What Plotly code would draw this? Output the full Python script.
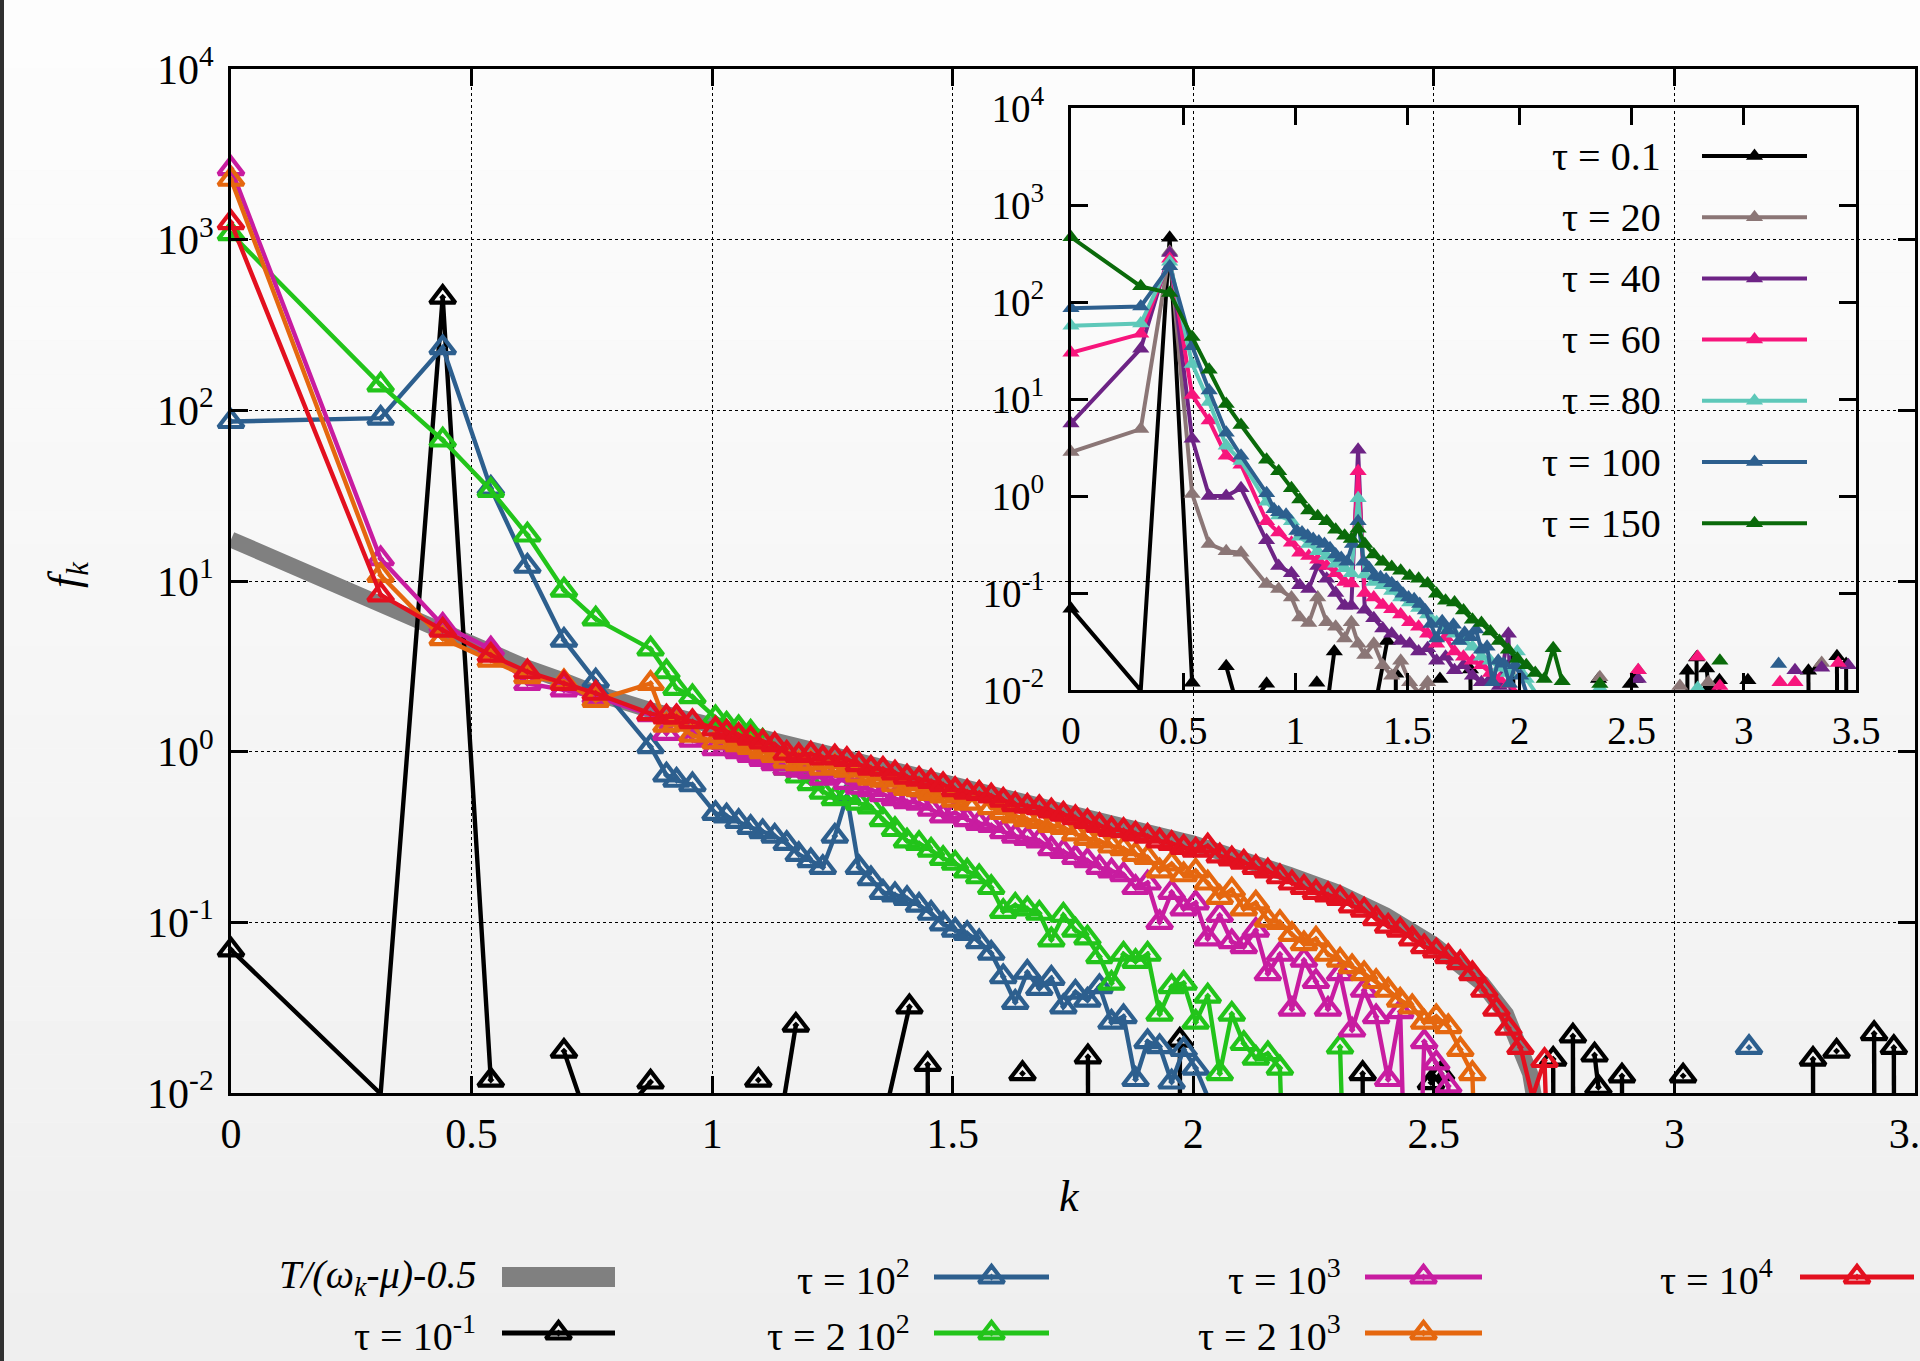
import plotly.graph_objects as go

N = None

# ---------------- data ----------------
# wave-number grid of the main panel
K_MAIN = [0.000, 0.311, 0.440, 0.540, 0.616, 0.692, 0.758, 0.872, 0.905, 0.926, 0.959, 1.007,
          1.030, 1.055, 1.080, 1.105, 1.130, 1.155, 1.180, 1.205, 1.230, 1.255,
          1.280, 1.305, 1.330, 1.355, 1.380, 1.405, 1.430, 1.455, 1.480, 1.505,
          1.530, 1.555, 1.580, 1.605, 1.630, 1.655, 1.680, 1.705, 1.730, 1.755,
          1.780, 1.805, 1.830, 1.855, 1.880, 1.905, 1.930, 1.955, 1.980, 2.005,
          2.030, 2.055, 2.080, 2.105, 2.130, 2.155, 2.180, 2.205, 2.230, 2.255,
          2.280, 2.305, 2.330, 2.355, 2.380, 2.405, 2.430, 2.455, 2.480, 2.505,
          2.530, 2.555, 2.580, 2.605, 2.630, 2.655, 2.680, 2.705, 2.730, 2.755]

TAU_1E2 = [86, 90, 233, 35, 12.2, 4.5, 2.6, 1.07, 0.73, 0.68, 0.64, 0.435,
           0.42, 0.39, 0.36, 0.34, 0.32, 0.29, 0.25, 0.23, 0.21, 0.32,
           0.55, 0.21, 0.18, 0.15, 0.145, 0.138, 0.126, 0.113, 0.098, 0.09,
           0.086, 0.077, 0.066, 0.048, 0.034, 0.051, 0.041, 0.047, 0.032, 0.039,
           0.035, 0.042, 0.026, 0.028, 0.012, 0.02, 0.0187, 0.0116, 0.018, 0.014,
           0.0095, N, N, N, N, N, N, N, N, N,
           N, N, N, N, N, N, N, N, N, N,
           N, N, N, N, N, N, N, N, N, N]
TAU_1E2_TAIL_K = [3.155]
TAU_1E2_TAIL_V = [0.0185]

TAU_2E2 = [1085, 141, 67, 34, 18.6, 8.85, 6.0, 4.0, 2.94, 2.35, 2.1, 1.58,
           1.45, 1.38, 1.3, 1.15, 0.95, 0.8, 0.72, 0.65, 0.58, 0.53,
           0.54, 0.5, 0.475, 0.4, 0.35, 0.3, 0.29, 0.265, 0.237, 0.222,
           0.2, 0.185, 0.16, 0.116, 0.126, 0.12, 0.113, 0.079, 0.11, 0.09,
           0.081, 0.063, 0.044, 0.065, 0.059, 0.065, 0.029, 0.042, 0.044, 0.026,
           0.037, 0.013, 0.029, 0.0195, 0.016, 0.017, 0.014, 0.0001, N, N,
           N, 0.0186, 0.0001, N, N, N, N, N, N, N,
           N, N, N, N, N, N, N, N, N, N]

TAU_1E3 = [2610, 13.5, 5.5, 4.0, 2.51, 2.3, 2.1, 1.65, 1.28, 1.6, 1.17, 1.04,
           1.05, 1.0, 0.95, 0.9, 0.85, 0.8, 0.78, 0.76, 0.7, 0.73,
           0.66, 0.62, 0.6, 0.56, 0.53, 0.51, 0.5, 0.46, 0.42, 0.44,
           0.4, 0.38, 0.37, 0.34, 0.32, 0.31, 0.3, 0.27, 0.26, 0.24,
           0.23, 0.21, 0.2, 0.19, 0.16, 0.17, 0.1, 0.15, 0.12, 0.13,
           0.08, 0.11, 0.077, 0.072, 0.09, 0.05, 0.065, 0.031, 0.06, 0.045,
           0.031, 0.05, 0.0234, 0.04, 0.028, 0.012, 0.03, 0.0001, 0.02, 0.015,
           0.011, 0.0001, N, N, N, N, N, N, N, N]

TAU_2E3 = [2260, 10.8, 4.6, 3.44, 2.75, 2.57, 2.0, 2.51, 1.43, 1.45, 1.25, 1.14,
           1.15, 1.1, 1.06, 1.0, 0.95, 0.88, 0.85, 0.86, 0.8, 0.82,
           0.78, 0.73, 0.7, 0.68, 0.64, 0.61, 0.6, 0.57, 0.55, 0.52,
           0.5, 0.57, 0.47, 0.44, 0.42, 0.4, 0.39, 0.37, 0.36, 0.33,
           0.31, 0.3, 0.28, 0.27, 0.25, 0.24, 0.2, 0.22, 0.19, 0.2,
           0.17, 0.14, 0.155, 0.12, 0.13, 0.103, 0.1, 0.085, 0.075, 0.08,
           0.065, 0.06, 0.055, 0.05, 0.045, 0.04, 0.035, 0.032, 0.026, 0.028,
           0.0245, 0.018, 0.013, 0.0001, N, N, N, N, N, N]

TAU_1E4 = [1260, 8.3, 5.15, 3.68, 2.94, 2.51, 2.2, 1.67, 1.6, 1.6, 1.5, 1.36,
           1.3, 1.25, 1.2, 1.14, 1.1, 0.98, 0.95, 0.97, 0.92, 0.93,
           0.9, 0.84, 0.8, 0.79, 0.75, 0.71, 0.69, 0.67, 0.64, 0.6,
           0.58, 0.57, 0.55, 0.52, 0.49, 0.48, 0.47, 0.45, 0.43, 0.41,
           0.39, 0.37, 0.35, 0.345, 0.33, 0.32, 0.30, 0.29, 0.275, 0.265,
           0.28, 0.245, 0.235, 0.225, 0.21, 0.2, 0.185, 0.17, 0.16, 0.15,
           0.145, 0.138, 0.125, 0.118, 0.105, 0.095, 0.09, 0.08, 0.072, 0.068,
           0.063, 0.058, 0.05, 0.04, 0.031, 0.024, 0.0185, 0.0095, 0.0155, 0.0001]

# tau = 0.1 (sparse, gaps where the value is zero)
TAU_01_K = [0.000, 0.311, 0.440, 0.540, 0.600, 0.692, 0.758, 0.872, 0.950,
            1.096, 1.120, 1.151, 1.174, 1.250, 1.369, 1.410, 1.430, 1.448, 1.451, 1.500,
            1.645, 1.700, 1.781, 1.783, 1.850, 1.972, 1.974, 2.100, 2.352, 2.354, 2.400,
            2.494, 2.515, 2.550, 2.748, 2.750, 2.770, 2.789, 2.791, 2.810, 2.834, 2.842,
            2.860, 2.891, 2.893, 2.950, 3.018, 3.050, 3.288, 3.290, 3.310, 3.337, 3.370,
            3.415, 3.417, 3.430, 3.456, 3.458]
TAU_01_V = [0.069, 0.0099, 460, 0.0119, N, 0.0176, 0.005, 0.0116, N,
            0.0119, N, 0.0099, 0.025, N, 0.0099, 0.032, N, 0.0147, 0.0001, N,
            0.013, N, 0.0163, 0.0001, N, 0.0204, 0.0001, N, 0.013, 0.0001, N,
            0.0115, 0.013, N, 0.0158, 0.0001, N, 0.0216, 0.0001, N, 0.0167, 0.0108,
            N, 0.0126, 0.0001, N, 0.0126, N, 0.0158, 0.0001, N, 0.0176, N,
            0.0223, 0.0001, N, 0.0185, 0.0001]

# T/(omega_k - mu) - 0.5
THEORY_K = [0, 0.311, 0.440, 0.540, 0.616, 0.692, 0.758, 0.872, 1.007, 1.2, 1.4, 1.6,
            1.8, 2.0, 2.2, 2.3, 2.4, 2.5, 2.6, 2.65, 2.7, 2.72]
THEORY_V = [17.5, 7.4, 4.9, 3.8, 3.1, 2.6, 2.2, 1.75, 1.42, 1.02, 0.76, 0.56,
            0.41, 0.29, 0.19, 0.15, 0.11, 0.074, 0.044, 0.029, 0.013, 0.006]

# inset grid and early-time series
K_IN = [0.000, 0.311, 0.440, 0.540, 0.616, 0.692, 0.758, 0.872, 0.926, 0.983,
        1.02, 1.06, 1.10, 1.14, 1.18, 1.22, 1.25, 1.28, 1.31, 1.35,
        1.39, 1.43, 1.47, 1.51, 1.55, 1.59, 1.63, 1.67, 1.71, 1.75,
        1.79, 1.83, 1.87, 1.91, 1.95, 1.99, 2.03, 2.07, 2.11, 2.15, 2.19]
TAU_20 = [2.84, 4.9, 330, 1.05, 0.32, 0.27, 0.26, 0.124, 0.11, 0.09,
          0.056, 0.049, 0.09, 0.05, 0.045, 0.034, 0.05, 0.03, 0.023, 0.03,
          0.018, 0.014, 0.02, 0.012, 0.0095, 0.012, 0.0001, N, N, N,
          N, N, N, N, N, N, N, N, N, N, N]
TAU_40 = [5.6, 33, 320, 3.9, 1.0, 1.0, 1.2, 0.35, 0.19, 0.16,
          0.12, 0.11, 0.19, 0.14, 0.1, 0.074, 0.074, 3.0, 0.067, 0.055,
          0.043, 0.038, 0.032, 0.03, 0.025, 0.027, 0.02, 0.022, 0.016, 0.018,
          0.014, 0.012, 0.013, 0.011, 0.038, 0.0001, N, N, N, N, N]
TAU_60 = [30, 47, 280, 11, 6.0, 2.6, 2.1, 0.55, 0.42, 0.33,
          0.26, 0.24, 0.22, 0.19, 0.16, 0.13, 0.125, 1.8, 0.1, 0.09,
          0.075, 0.068, 0.06, 0.05, 0.045, 0.038, 0.03, 0.035, 0.025, 0.022,
          0.02, 0.018, 0.015, 0.013, 0.0115, 0.0095, N, N, N, N, N]
TAU_80 = [57, 60, 260, 23, 9.3, 3.3, 2.3, 0.87, 0.63, 0.55,
          0.38, 0.32, 0.27, 0.24, 0.2, 0.18, 0.16, 0.95, 0.155, 0.13,
          0.12, 0.105, 0.09, 0.08, 0.07, 0.06, 0.05, 0.045, 0.038, 0.032,
          0.028, 0.022, 0.02, 0.017, 0.015, 0.025, 0.013, 0.0095, N, N, N]
TAU_150 = [466, 145, 124, 43.6, 20, 8.9, 5.4, 2.37, 1.8, 1.2,
           0.92, 0.71, 0.62, 0.55, 0.45, 0.39, 0.36, 0.46, 0.32, 0.25,
           0.21, 0.185, 0.17, 0.15, 0.14, 0.125, 0.098, 0.083, 0.08, 0.066,
           0.053, 0.049, 0.04, 0.032, 0.026, 0.021, 0.018, 0.015, 0.013, 0.027, 0.0123]
# isolated late points of the inset series (no connecting lines)
TAIL20_K, TAIL20_V = [2.358, 2.529, 2.715, 2.841, 3.347], [0.0135, 0.016, 0.011, 0.012, 0.019]
TAIL40_K, TAIL40_V = [2.529, 3.228, 3.347, 3.466], [0.013, 0.016, 0.017, 0.018]
TAIL60_K, TAIL60_V = [2.529, 2.794, 2.893, 3.161, 3.228, 3.421], [0.016, 0.022, 0.011, 0.012, 0.012, 0.019]
TAIL80_K, TAIL80_V = [2.358, 2.794], [0.0105, 0.0105]
TAIL150_K, TAIL150_V = [2.358, 2.893], [0.0115, 0.02]

XTICKS = [0, 0.5, 1, 1.5, 2, 2.5, 3, 3.5]
XTICK_TEXT = ['0', '0.5', '1', '1.5', '2', '2.5', '3', '3.5']
YTICKS = [1e-2, 1e-1, 1, 10, 100, 1000, 10000]
YTICK_TEXT = ['10<sup>-2</sup>', '10<sup>-1</sup>', '10<sup>0</sup>', '10<sup>1</sup>',
              '10<sup>2</sup>', '10<sup>3</sup>', '10<sup>4</sup>']

# ---------------- styling ----------------
W, H = 1920, 1361
SERIF = 'Liberation Serif, Times New Roman, serif'
C_BLACK = '#000000'
C_BLUE = '#2d5f8e'
C_GREEN = '#22c41a'
C_MAGENTA = '#c81ca0'
C_ORANGE = '#e5670f'
C_RED = '#e3101f'
C_GRAY = '#808080'
C_BROWN = '#8b7676'
C_PURPLE = '#6d2385'
C_PINK = '#f7157c'
C_TURQ = '#5ec8b9'
C_DKGREEN = '#0a6a0a'

MAIN_BOX = (231, 1915, 69, 1093)     # left, right, top, bottom in px
INSET_BOX = (1071, 1856, 108, 690)


def dom_x(box):
    return [box[0] / W, box[1] / W]


def dom_y(box):
    return [1 - box[3] / H, 1 - box[2] / H]


fig = go.Figure()


def add_series(k, v, color, xa, ya, lw, symbol, msize, mlw, lines=True):
    n = min(len(k), len(v))
    k, v = list(k[:n]), list(v[:n])
    if lines:
        fig.add_trace(go.Scatter(x=k, y=v, mode='lines', xaxis=xa, yaxis=ya,
                                 line=dict(color=color, width=lw), connectgaps=False,
                                 hoverinfo='skip', showlegend=False))
    km = [a for a, b in zip(k, v) if b is not None and b >= 0.01]
    vm = [b for b in v if b is not None and b >= 0.01]
    fig.add_trace(go.Scatter(x=km, y=vm, mode='markers', xaxis=xa, yaxis=ya,
                             marker=dict(symbol=symbol, size=msize, color=color,
                                         line=dict(color=color, width=mlw)),
                             cliponaxis=False, hoverinfo='skip', showlegend=False))


# ---- main panel ----
fig.add_trace(go.Scatter(x=THEORY_K, y=THEORY_V, mode='lines', xaxis='x', yaxis='y',
                         line=dict(color=C_GRAY, width=16), hoverinfo='skip', showlegend=False))
MS = 'triangle-up-open-dot'
MSZ, MLW, LW = 22, 4.2, 4.4
add_series(TAU_01_K, TAU_01_V, C_BLACK, 'x', 'y', LW, MS, MSZ, MLW)
add_series(K_MAIN, TAU_1E2, C_BLUE, 'x', 'y', LW, MS, MSZ, MLW)
add_series(TAU_1E2_TAIL_K, TAU_1E2_TAIL_V, C_BLUE, 'x', 'y', LW, MS, MSZ, MLW, lines=False)
add_series(K_MAIN, TAU_2E2, C_GREEN, 'x', 'y', LW, MS, MSZ, MLW)
add_series(K_MAIN, TAU_1E3, C_MAGENTA, 'x', 'y', LW, MS, MSZ, MLW)
add_series(K_MAIN, TAU_2E3, C_ORANGE, 'x', 'y', LW, MS, MSZ, MLW)
add_series(K_MAIN, TAU_1E4, C_RED, 'x', 'y', LW, MS, MSZ, MLW)

# ---- inset ----
FS = 'triangle-up'
inset_series = [
    (TAU_01_K, TAU_01_V, C_BLACK, True),
    (K_IN, TAU_20, C_BROWN, True), (TAIL20_K, TAIL20_V, C_BROWN, False),
    (K_IN, TAU_40, C_PURPLE, True), (TAIL40_K, TAIL40_V, C_PURPLE, False),
    (K_IN, TAU_60, C_PINK, True), (TAIL60_K, TAIL60_V, C_PINK, False),
    (K_IN, TAU_80, C_TURQ, True), (TAIL80_K, TAIL80_V, C_TURQ, False),
    (K_MAIN, TAU_1E2, C_BLUE, True), (TAU_1E2_TAIL_K, TAU_1E2_TAIL_V, C_BLUE, False),
    (K_IN, TAU_150, C_DKGREEN, True), (TAIL150_K, TAIL150_V, C_DKGREEN, False),
]
for k, v, c, ln in inset_series:
    add_series(k, v, c, 'x2', 'y2', 4, FS, 15, 0, lines=ln)

# ---- legends (drawn in an overlay pixel frame) ----
def legend_sample(x0, x1, y, color, lw, marker=None, msize=22, mlw=4.2):
    fig.add_trace(go.Scatter(x=[x0, x1], y=[y, y], mode='lines', xaxis='x3', yaxis='y3',
                             line=dict(color=color, width=lw), hoverinfo='skip', showlegend=False))
    if marker:
        fig.add_trace(go.Scatter(x=[(x0 + x1) / 2], y=[y], mode='markers', xaxis='x3', yaxis='y3',
                                 marker=dict(symbol=marker, size=msize, color=color,
                                             line=dict(color=color, width=mlw)),
                                 cliponaxis=False, hoverinfo='skip', showlegend=False))


annotations = []


def label(x, y, text, size=40, xanchor='right', angle=0):
    annotations.append(dict(x=x, y=y, xref='x3', yref='y3', text=text, showarrow=False,
                            xanchor=xanchor, yanchor='middle', textangle=angle,
                            font=dict(family=SERIF, size=size, color='black')))


MAIN_LEGEND = [
    ('<i>T/(ω<sub>k</sub>-μ)-0.5</i>', 478, 502, 615, 1277, C_GRAY, 20, None),
    ('τ = 10<sup>-1</sup>', 478, 502, 615, 1333, C_BLACK, 5, MS),
    ('τ = 10<sup>2</sup>', 912, 934, 1049, 1277, C_BLUE, 5, MS),
    ('τ = 2 10<sup>2</sup>', 912, 934, 1049, 1333, C_GREEN, 5, MS),
    ('τ = 10<sup>3</sup>', 1343, 1365, 1482, 1277, C_MAGENTA, 5, MS),
    ('τ = 2 10<sup>3</sup>', 1343, 1365, 1482, 1333, C_ORANGE, 5, MS),
    ('τ = 10<sup>4</sup>', 1775, 1800, 1914, 1277, C_RED, 5, MS),
]
for text, tx, x0, x1, y, c, lw, m in MAIN_LEGEND:
    legend_sample(x0, x1, y, c, lw, m)
    label(tx, y, text, size=40)

INSET_LEGEND = [('τ = 0.1', C_BLACK), ('τ = 20', C_BROWN), ('τ = 40', C_PURPLE),
                ('τ = 60', C_PINK), ('τ = 80', C_TURQ), ('τ = 100', C_BLUE),
                ('τ = 150', C_DKGREEN)]
for i, (text, c) in enumerate(INSET_LEGEND):
    y = 156 + i * 61.2
    legend_sample(1702, 1807, y, c, 4, FS, 15, 0)
    label(1663, y, text, size=40)

# axis titles
label(1069, 1196, '<i>k</i>', size=44, xanchor='center')
label(67, 575, '<i>f<sub>k</sub></i>', size=44, xanchor='center', angle=-90)

# ---- background gradient & left edge ----
shapes = []
NB = 40
for i in range(NB):
    t = i / (NB - 1)
    g = int(round(253 - 14 * t))
    shapes.append(dict(type='rect', xref='paper', yref='paper', x0=0, x1=1,
                       y0=1 - (i + 1) / NB, y1=1 - i / NB, layer='below',
                       line=dict(width=0), fillcolor=f'rgb({g},{g},{g})'))
shapes.append(dict(type='rect', xref='paper', yref='paper', x0=0, x1=4 / W, y0=0, y1=1,
                   layer='above', line=dict(width=0), fillcolor='#303030'))

axis_common = dict(ticks='inside', ticklen=17, tickwidth=2.8, tickcolor='black',
                   showline=True, linewidth=3, linecolor='black', mirror='ticks',
                   zeroline=False, fixedrange=True)

fig.update_layout(
    width=W, height=H, margin=dict(l=0, r=0, t=0, b=0, autoexpand=False),
    paper_bgcolor='#f6f6f6', plot_bgcolor='rgba(0,0,0,0)',
    showlegend=False, shapes=shapes, annotations=annotations,
    xaxis=dict(domain=dom_x(MAIN_BOX), anchor='y', range=[0, 3.5], tickmode='array',
               tickvals=XTICKS, ticktext=XTICK_TEXT, showgrid=True, gridcolor='black',
               gridwidth=1.2, griddash='dot', ticklabelstandoff=2, automargin=False,
               ticklabeloverflow='allow',
               tickfont=dict(family=SERIF, size=42, color='black'), **axis_common),
    yaxis=dict(domain=dom_y(MAIN_BOX), anchor='x', type='log', range=[-2, 4], tickmode='array',
               tickvals=YTICKS, ticktext=YTICK_TEXT, showgrid=True, gridcolor='black',
               gridwidth=1.2, griddash='dot', ticklabelstandoff=6, automargin=False,
               tickfont=dict(family=SERIF, size=42, color='black'), **axis_common),
    xaxis2=dict(domain=dom_x(INSET_BOX), anchor='y2', range=[0, 3.5], tickmode='array',
                tickvals=XTICKS, ticktext=XTICK_TEXT, showgrid=False, ticklabelstandoff=4,
                automargin=False, ticklabeloverflow='allow',
                tickfont=dict(family=SERIF, size=39, color='black'), **axis_common),
    yaxis2=dict(domain=dom_y(INSET_BOX), anchor='x2', type='log', range=[-2, 4], tickmode='array',
                tickvals=YTICKS, ticktext=YTICK_TEXT, showgrid=False, ticklabelstandoff=16,
                automargin=False, tickfont=dict(family=SERIF, size=39, color='black'), **axis_common),
    xaxis3=dict(domain=[0, 1], anchor='y3', range=[0, W], visible=False, fixedrange=True),
    yaxis3=dict(domain=[0, 1], anchor='x3', range=[H, 0], visible=False, fixedrange=True),
)

fig.write_html('out.html')
